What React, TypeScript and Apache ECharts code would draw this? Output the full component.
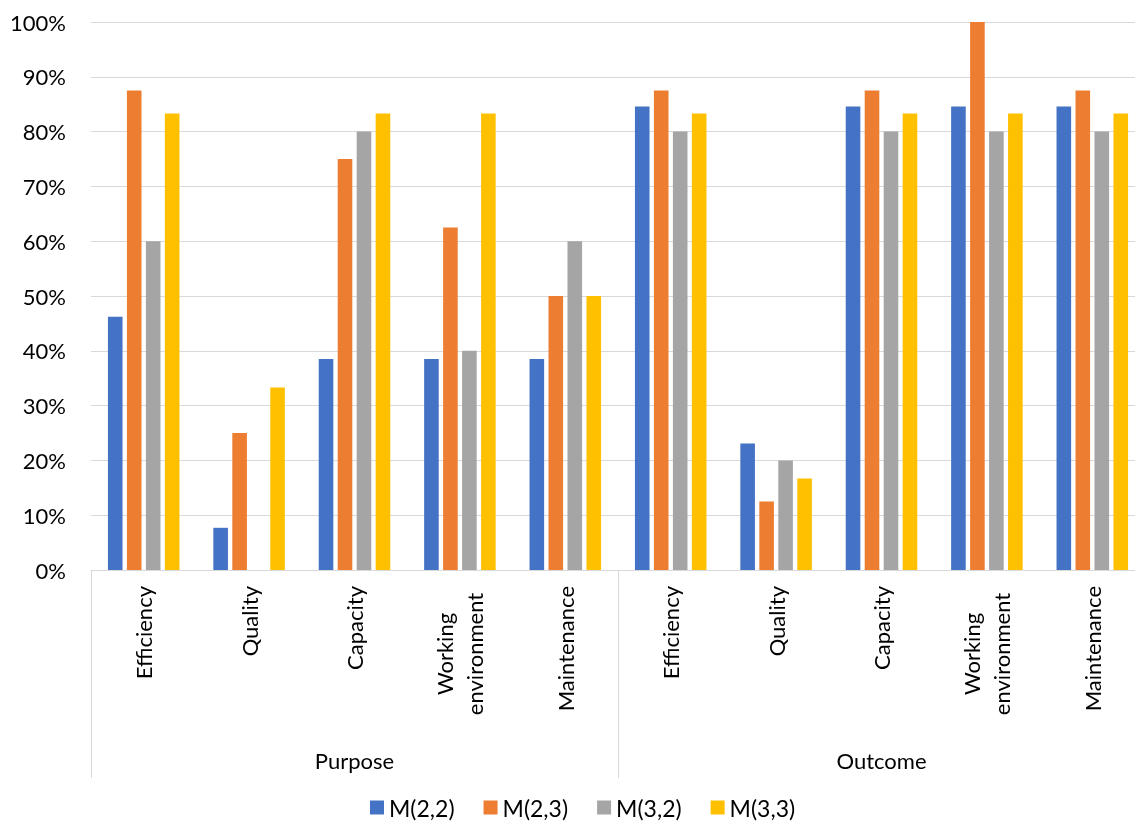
import React, { useEffect, useRef } from "react";
import * as echarts from "echarts";

const groups = ["Purpose", "Outcome"];
const subCategories = ["Efficiency", "Quality", "Capacity", "Working\nenvironment", "Maintenance"];
const seriesNames = ["M(2,2)", "M(2,3)", "M(3,2)", "M(3,3)"];
const m22 = [46.2, 7.7, 38.5, 38.5, 38.5, 84.6, 23.1, 84.6, 84.6, 84.6];
const m23 = [87.5, 25, 75, 62.5, 50, 87.5, 12.5, 87.5, 100, 87.5];
const m32 = [60, 0, 80, 40, 60, 80, 20, 80, 80, 80];
const m33 = [83.3, 33.3, 83.3, 83.3, 50, 83.3, 16.7, 83.3, 83.3, 83.3];
const yTicks = [0, 10, 20, 30, 40, 50, 60, 70, 80, 90, 100];
const colors = ["#4472C4", "#ED7D31", "#A5A5A5", "#FFC000"];

const FONT = "Lato";

export default function App() {
  const ref = useRef<HTMLDivElement>(null);
  useEffect(() => {
    if (!ref.current) return;
    const chart = echarts.init(ref.current, undefined, { renderer: "svg" });
    const xData: string[] = [];
    groups.forEach((g) => subCategories.forEach((s) => xData.push(g + "|" + s)));
    const values = [m22, m23, m32, m33];
    chart.setOption({
      animation: false,
      textStyle: { fontFamily: FONT },
      grid: { left: 91, right: 0, top: 22, bottom: 252, containLabel: false },
      legend: {
        top: 791,
        left: 365,
        itemWidth: 14,
        itemHeight: 14,
        itemGap: 29,
        icon: "rect",
        textStyle: { fontSize: 23, color: "#000", fontFamily: FONT },
        data: seriesNames,
      },
      xAxis: [
        {
          type: "category",
          data: xData,
          axisLine: { show: true, lineStyle: { color: "#D9D9D9", width: 1 } },
          axisTick: { show: false },
          axisLabel: {
            rotate: 90,
            interval: 0,
            margin: 16,
            fontSize: 22,
            color: "#000",
            fontFamily: FONT,
            formatter: (v: string) => {
              const s = v.split("|")[1];
              if (s.includes("\n")) return s.split("\n").map((t) => "{w|" + t + "}").join("\n");
              return s;
            },
            rich: {
              w: { width: 136, align: "center", fontSize: 22, color: "#000", fontFamily: FONT, lineHeight: 30 },
            },
          },
        },
        {
          type: "category",
          data: groups,
          position: "bottom",
          axisLine: { show: false },
          axisTick: { show: true, interval: 0, length: 208, lineStyle: { color: "#D9D9D9", width: 1 } },
          axisLabel: { interval: 0, margin: 179, fontSize: 22, color: "#000", fontFamily: FONT },
          splitLine: { show: false },
        },
      ],
      yAxis: {
        type: "value",
        min: yTicks[0],
        max: yTicks[yTicks.length - 1],
        interval: 10,
        axisLine: { show: false },
        axisTick: { show: false },
        axisLabel: { formatter: "{value}%", fontSize: 22, color: "#000", margin: 25, fontFamily: FONT },
        splitLine: { lineStyle: { color: "#D9D9D9", width: 1 } },
      },
      series: seriesNames.map((name, i) => ({
        name,
        type: "bar",
        xAxisIndex: 0,
        data: values[i],
        barWidth: 14.6,
        barGap: "30%",
        itemStyle: { color: colors[i] },
      })),
    });
    return () => chart.dispose();
  }, []);
  return (
    <div style={{ position: "fixed", left: 0, top: 0, width: 1135, height: 822, overflow: "hidden" }}>
      <div ref={ref} style={{ width: 1145, height: 822 }} />
    </div>
  );
}
